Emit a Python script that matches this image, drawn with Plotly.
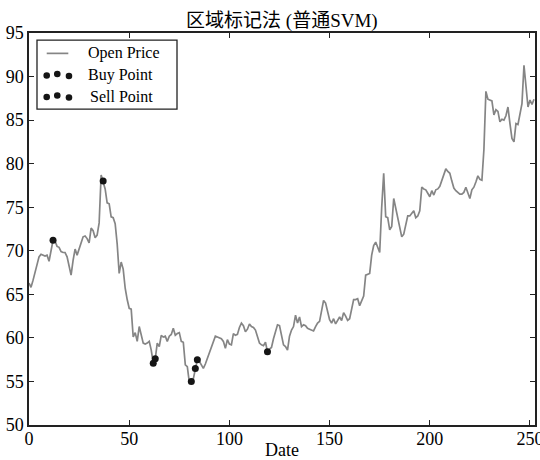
import plotly.graph_objects as go

# Daily opening price (trading-day index on the x axis)
open_price = [
    66.3, 65.8, 66.6, 67.6, 68.6, 69.3, 69.6, 69.5, 69.4, 69.5,
    68.8, 70.0, 71.2, 71.1, 70.5, 70.4, 69.9, 69.8, 69.8, 69.3,
    68.2, 67.2, 68.9, 70.2, 69.5, 70.3, 70.9, 71.6, 71.7, 71.4,
    70.9, 72.6, 72.3, 71.5, 71.8, 73.2, 78.7, 78.0, 77.1, 75.5,
    75.4, 73.9, 73.8, 73.1, 70.8, 67.4, 68.7, 67.9, 65.7, 64.4,
    63.4, 63.3, 60.1, 60.6, 59.6, 61.3, 60.2, 59.4, 59.3, 59.4,
    59.6, 58.6, 57.1, 57.6, 59.4, 59.0, 60.3, 60.1, 60.2, 59.6,
    60.2, 60.4, 61.1, 60.3, 60.5, 60.6, 59.6, 59.5, 56.9, 56.7,
    54.9, 55.0, 55.3, 56.5, 57.5, 57.3, 56.8, 56.5, 57.0, 57.6,
    58.3, 58.8, 59.4, 60.2, 60.1, 60.0, 59.9, 59.6, 58.8, 59.8,
    59.3, 59.2, 60.5, 60.3, 60.4, 61.2, 61.7, 61.4, 60.7, 61.0,
    61.6, 61.3, 61.2, 60.9, 60.1, 59.4, 59.2, 59.1, 59.5, 58.4,
    58.7, 58.9, 59.9, 60.7, 61.5, 61.4, 60.3, 59.2, 59.0, 58.6,
    60.2, 60.9, 61.3, 62.6, 61.7, 62.4, 61.3, 61.5, 61.4, 61.1,
    61.0, 60.9, 60.8, 61.3, 61.7, 61.9, 63.2, 64.3, 64.0, 63.2,
    62.1, 61.7, 62.2, 61.6, 62.0, 62.4, 62.0, 62.9, 62.5, 62.0,
    62.2, 63.5, 64.4, 64.4, 64.5, 63.7, 64.2, 64.8, 67.2, 67.3,
    67.4, 69.5, 70.6, 71.0, 70.4, 69.8, 75.0, 78.9, 73.9, 73.8,
    72.4, 72.8, 76.0, 74.8, 73.8, 72.7, 71.6, 71.9, 72.9, 74.0,
    74.0, 74.3, 74.6, 73.8, 74.0, 74.6, 77.3, 77.1, 77.0, 76.6,
    76.2, 76.9, 76.4, 77.0, 77.1, 77.4, 78.0, 78.6, 79.4, 79.1,
    78.9, 78.0, 77.2, 76.9, 76.7, 76.5, 76.5, 76.7, 77.3, 76.5,
    76.0, 77.0, 77.3, 77.9, 78.6, 78.2, 78.1, 81.6, 88.3, 87.4,
    87.3, 87.2, 85.6, 86.2, 86.0, 84.8, 85.1, 85.0, 85.5, 86.5,
    84.6, 82.9, 82.5, 84.6, 84.5, 85.6, 86.9, 91.3, 89.2, 86.5,
    87.3, 86.8, 87.4,
]
day_index = list(range(len(open_price)))

# Signal days flagged by the SVM region labelling
buy_days = [62, 63, 81, 83, 84, 119]
sell_days = [12, 37]

x_ticks = [0, 50, 100, 150, 200, 250]
y_ticks = [50, 55, 60, 65, 70, 75, 80, 85, 90, 95]

FONT = "Liberation Serif, Noto Sans CJK SC, serif"
LINE_GRAY = "#858585"
DOT = "#151515"

fig = go.Figure()
fig.add_trace(go.Scatter(
    x=day_index, y=open_price, mode="lines", name="Open Price",
    line=dict(color=LINE_GRAY, width=1.7), showlegend=False,
))
fig.add_trace(go.Scatter(
    x=buy_days, y=[open_price[d] for d in buy_days], mode="markers",
    name="Buy Point", marker=dict(color=DOT, size=7), showlegend=False,
))
fig.add_trace(go.Scatter(
    x=sell_days, y=[open_price[d] for d in sell_days], mode="markers",
    name="Sell Point", marker=dict(color=DOT, size=7), showlegend=False,
))

axis_common = dict(
    showgrid=False, zeroline=False, showline=True, linecolor="#222",
    linewidth=1.5, mirror="allticks", ticks="inside", ticklen=5,
    tickwidth=1, tickcolor="#222", ticklabeloverflow="allow",
    automargin=False,
    tickfont=dict(family=FONT, size=18, color="black"),
)

fig.update_xaxes(range=[0, 252.5], tickvals=x_ticks, ticklabelstandoff=-3,
                 title=dict(text="Date", font=dict(family=FONT, size=18, color="black"),
                            standoff=3),
                 **axis_common)
fig.update_yaxes(range=[50, 95], tickvals=y_ticks, **axis_common)

# Legend box drawn in paper space: line sample for the price,
# three dots per signal row.
shapes = [
    dict(type="rect", xref="paper", yref="paper", x0=0.0158, x1=0.2925,
         y0=0.806, y1=0.982, line=dict(color="#222", width=1.3),
         fillcolor="white", layer="above"),
    dict(type="line", xref="paper", yref="paper", x0=0.035, x1=0.0777,
         y0=0.948, y1=0.948, line=dict(color=LINE_GRAY, width=1.7)),
]
for row_y in ([0.8916, 0.8954, 0.8903], [0.8367, 0.8406, 0.8355]):
    for cx, cy in zip([0.035, 0.0559, 0.079], row_y):
        shapes.append(dict(
            type="circle", xref="paper", yref="paper",
            xsizemode="pixel", ysizemode="pixel", xanchor=cx, yanchor=cy,
            x0=-3.3, x1=3.3, y0=-3.3, y1=3.3,
            fillcolor=DOT, line=dict(width=0), layer="above",
        ))

labels = [("Open Price", 0.1126, 0.948), ("Buy Point", 0.1126, 0.8929),
          ("Sell Point", 0.1166, 0.8375)]
annotations = [
    dict(text=t, x=x, y=y, xref="paper", yref="paper", xanchor="left",
         yanchor="middle", showarrow=False,
         font=dict(family=FONT, size=16, color="black"))
    for t, x, y in labels
]

fig.update_layout(
    width=540, height=460,
    margin=dict(l=29, r=5, t=33, b=35),
    paper_bgcolor="white", plot_bgcolor="white",
    title=dict(text="区域标记法 (普通SVM)", x=0.522, xanchor="center",
               y=0.955, yanchor="middle",
               font=dict(family=FONT, size=19, color="black")),
    shapes=shapes, annotations=annotations, showlegend=False,
)

fig.write_html("out.html")
